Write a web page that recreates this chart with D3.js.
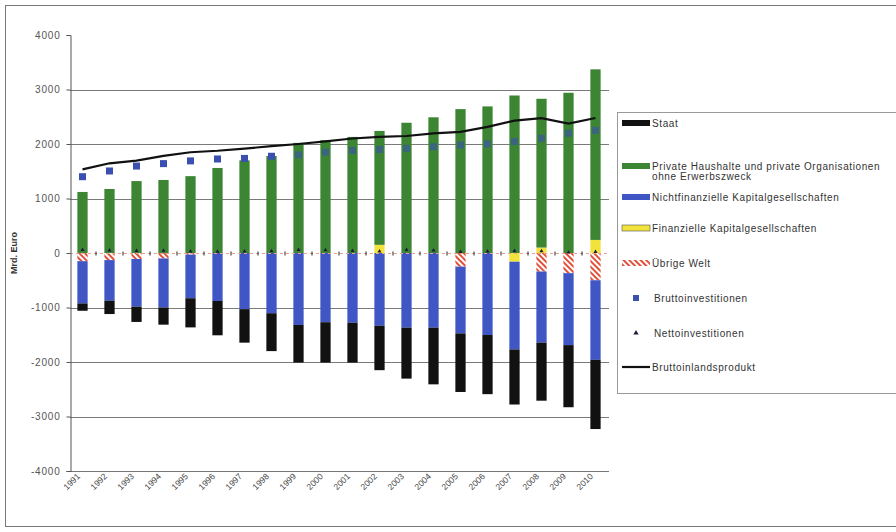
<!DOCTYPE html>
<html>
<head>
<meta charset="utf-8">
<script src="https://cdn.jsdelivr.net/npm/d3@7"></script>
<style>
  body { margin: 0; background: #fff; }
  svg { font-family: "Liberation Sans", Arial, sans-serif; }
</style>
</head>
<body>
<svg id="chart" width="896" height="532"></svg>
<script>
// Data (Mrd. Euro)
const years = ['1991','1992','1993','1994','1995','1996','1997','1998','1999','2000',
               '2001','2002','2003','2004','2005','2006','2007','2008','2009','2010'];
const uebrigeWelt = [-150,-130,-110,-100,-30,0,0,0,0,0,0,0,0,0,-250,0,0,-340,-370,-500];
const finanzielle = [0,0,0,0,0,0,0,0,0,0,0,150,0,0,0,0,-160,100,0,240];
const nichtfinanzielle = [-775,-745,-875,-900,-800,-880,-1030,-1105,-1320,-1270,
                          -1280,-1335,-1370,-1370,-1225,-1505,-1610,-1305,-1320,-1460];
const privat = [1120,1175,1320,1340,1410,1560,1700,1780,2020,2070,
                2130,2090,2390,2490,2640,2690,2890,2730,2940,3130];
const staat = [-135,-245,-280,-315,-535,-630,-615,-695,-690,-740,
               -730,-815,-935,-1040,-1075,-1085,-1010,-1065,-1140,-1270];
const bruttoinvestitionen = [1400,1505,1595,1640,1690,1725,1735,1775,1800,1850,
                             1880,1900,1920,1950,1980,2000,2045,2105,2200,2250];
const nettoinvestitionen = [60,50,40,45,30,25,30,35,60,55,40,30,60,50,20,30,40,35,10,20];
const bip = [1534,1646,1694,1781,1849,1876,1915,1961,2000,2048,
             2101,2132,2147,2196,2224,2313,2428,2474,2374,2477];
const yTicks = [-4000,-3000,-2000,-1000,0,1000,2000,3000,4000];

const svg = d3.select('#chart');

// pattern for Übrige Welt
const defs = svg.append('defs');
const pat = defs.append('pattern')
  .attr('id', 'hatch')
  .attr('patternUnits', 'userSpaceOnUse')
  .attr('width', 4).attr('height', 4)
  .attr('patternTransform', 'rotate(-45)');
pat.append('rect').attr('width', 4).attr('height', 4).attr('fill', '#fff');
pat.append('rect').attr('width', 2).attr('height', 4).attr('fill', '#e0503a');

// outer frame
svg.append('rect')
  .attr('x', 5.5).attr('y', 5.5)
  .attr('width', 920).attr('height', 521)
  .attr('fill', 'none').attr('stroke', '#777');

const x = d3.scaleBand().domain(years).range([69, 609]).paddingInner(0.62).paddingOuter(0.31);
const y = d3.scaleLinear().domain([-4000, 4000]).range([471, 35]);

// gridlines
svg.append('g')
  .selectAll('line')
  .data([-3000,-2000,-1000,1000,2000,3000])
  .enter().append('line')
  .attr('x1', 70).attr('x2', 609)
  .attr('y1', d => Math.round(y(d)) + 0.5)
  .attr('y2', d => Math.round(y(d)) + 0.5)
  .attr('stroke', '#7a7a7a');

// bottom line
svg.append('line')
  .attr('x1', 70).attr('x2', 609)
  .attr('y1', Math.round(y(-4000)) + 0.5).attr('y2', Math.round(y(-4000)) + 0.5)
  .attr('stroke', '#777');

// stacked bars
const rows = years.map((yr, i) => ({
  year: yr,
  uw: uebrigeWelt[i],
  fin: finanzielle[i],
  nf: nichtfinanzielle[i],
  ph: privat[i],
  st: staat[i]
}));
const keys = ['uw', 'fin', 'nf', 'ph', 'st'];
const fills = { uw: 'url(#hatch)', fin: '#f2e23c', nf: '#3f56c4', ph: '#3c8533', st: '#111111' };

const stack = d3.stack().keys(keys).offset(d3.stackOffsetDiverging);
const series = stack(rows);

svg.append('g')
  .selectAll('g')
  .data(series)
  .enter().append('g')
  .attr('fill', d => fills[d.key])
  .selectAll('rect')
  .data(d => d)
  .enter().append('rect')
  .attr('x', d => x(d.data.year))
  .attr('width', x.bandwidth())
  .attr('y', d => y(Math.max(d[0], d[1])))
  .attr('height', d => Math.abs(y(d[0]) - y(d[1])));

// category axis at zero (dashed, ticks between categories)
const zeroY = Math.round(y(0)) + 0.5;
svg.append('line')
  .attr('x1', 70).attr('x2', 609)
  .attr('y1', zeroY).attr('y2', zeroY)
  .attr('stroke', '#e8a28e')
  .attr('stroke-dasharray', '3,3');
svg.append('g')
  .selectAll('line')
  .data(years.slice(1))
  .enter().append('line')
  .attr('x1', d => x(d) - x.step() * x.paddingInner() / 2)
  .attr('x2', d => x(d) - x.step() * x.paddingInner() / 2)
  .attr('y1', zeroY - 2).attr('y2', zeroY + 2)
  .attr('stroke', '#222');

// Bruttoinlandsprodukt line
const line = d3.line()
  .x((d, i) => x(years[i]) + x.bandwidth() / 2)
  .y(d => y(d));
svg.append('path')
  .datum(bip)
  .attr('d', line)
  .attr('fill', 'none')
  .attr('stroke', '#111')
  .attr('stroke-width', 2.2);

// Bruttoinvestitionen squares
svg.append('g')
  .selectAll('rect')
  .data(bruttoinvestitionen)
  .enter().append('rect')
  .attr('x', (d, i) => x(years[i]) + x.bandwidth() / 2 - 3.5)
  .attr('y', d => y(d) - 3.5)
  .attr('width', 7).attr('height', 7)
  .attr('fill', '#3a4fb0')
  .attr('opacity', (d, i) => i < 8 ? 1 : 0.6);

// Nettoinvestitionen triangles
svg.append('g')
  .selectAll('path')
  .data(nettoinvestitionen)
  .enter().append('path')
  .attr('d', d3.symbol().type(d3.symbolTriangle).size(7))
  .attr('transform', (d, i) => `translate(${x(years[i]) + x.bandwidth() / 2},${y(d)})`)
  .attr('fill', '#1c1c3a');

// y axis
const yAxis = svg.append('g')
  .attr('transform', 'translate(70.5,0)')
  .call(d3.axisLeft(y).tickValues(yTicks).tickSize(4).tickPadding(6).tickFormat(d => String(d)));
yAxis.select('.domain').attr('stroke', '#555');
yAxis.selectAll('.tick line').attr('stroke', '#555');
yAxis.selectAll('text')
  .attr('font-size', 10)
  .attr('letter-spacing', 0.8)
  .attr('fill', '#555');

svg.append('text')
  .attr('transform', 'translate(17,253) rotate(-90)')
  .attr('text-anchor', 'middle')
  .attr('font-size', 9)
  .attr('font-weight', 'bold')
  .attr('fill', '#333')
  .text('Mrd. Euro');

// x labels
svg.append('g')
  .selectAll('text')
  .data(years)
  .enter().append('text')
  .attr('transform', d => `translate(${x(d) + x.bandwidth() / 2 - 2},477) rotate(-45)`)
  .attr('text-anchor', 'end')
  .attr('font-size', 8.5)
  .attr('fill', '#444')
  .text(d => d);

// legend
const legend = svg.append('g');
legend.append('rect')
  .attr('x', 617.5).attr('y', 112.5)
  .attr('width', 300).attr('height', 281)
  .attr('fill', '#fff')
  .attr('stroke', '#999');

const legendItems = [
  { label: ['Staat'], y: 123, type: 'bar', fill: '#111111' },
  { label: ['Private Haushalte und private Organisationen', 'ohne Erwerbszweck'], y: 166, type: 'bar', fill: '#3c8533' },
  { label: ['Nichtfinanzielle Kapitalgesellschaften'], y: 197, type: 'bar', fill: '#3f56c4' },
  { label: ['Finanzielle Kapitalgesellschaften'], y: 228, type: 'bar', fill: '#f2e23c' },
  { label: ['Übrige Welt'], y: 263, type: 'bar', fill: 'url(#hatch)' },
  { label: ['Bruttoinvestitionen'], y: 298, type: 'square' },
  { label: ['Nettoinvestitionen'], y: 333, type: 'triangle' },
  { label: ['Bruttoinlandsprodukt'], y: 367, type: 'line' }
];

legendItems.forEach(item => {
  const g = legend.append('g');
  if (item.type === 'bar') {
    g.append('rect')
      .attr('x', 622).attr('y', item.y - 3)
      .attr('width', 28).attr('height', 6)
      .attr('fill', item.fill)
      .attr('stroke', item.fill === '#f2e23c' ? '#555' : 'none')
      .attr('stroke-width', 0.6);
  } else if (item.type === 'square') {
    g.append('rect')
      .attr('x', 633).attr('y', item.y - 3)
      .attr('width', 6).attr('height', 6)
      .attr('fill', '#3a4fb0');
  } else if (item.type === 'triangle') {
    g.append('path')
      .attr('d', d3.symbol().type(d3.symbolTriangle).size(12))
      .attr('transform', `translate(636,${item.y})`)
      .attr('fill', '#1c1c3a');
  } else {
    g.append('line')
      .attr('x1', 622).attr('x2', 650)
      .attr('y1', item.y).attr('y2', item.y)
      .attr('stroke', '#111').attr('stroke-width', 2.2);
  }
  item.label.forEach((t, j) => {
    g.append('text')
      .attr('x', item.type === 'bar' || item.type === 'line' ? 652 : 654)
      .attr('y', item.y + 3.5 + j * 10)
      .attr('font-size', 10)
      .attr('letter-spacing', 0.6)
      .attr('fill', '#333')
      .text(t);
  });
});
</script>
</body>
</html>
